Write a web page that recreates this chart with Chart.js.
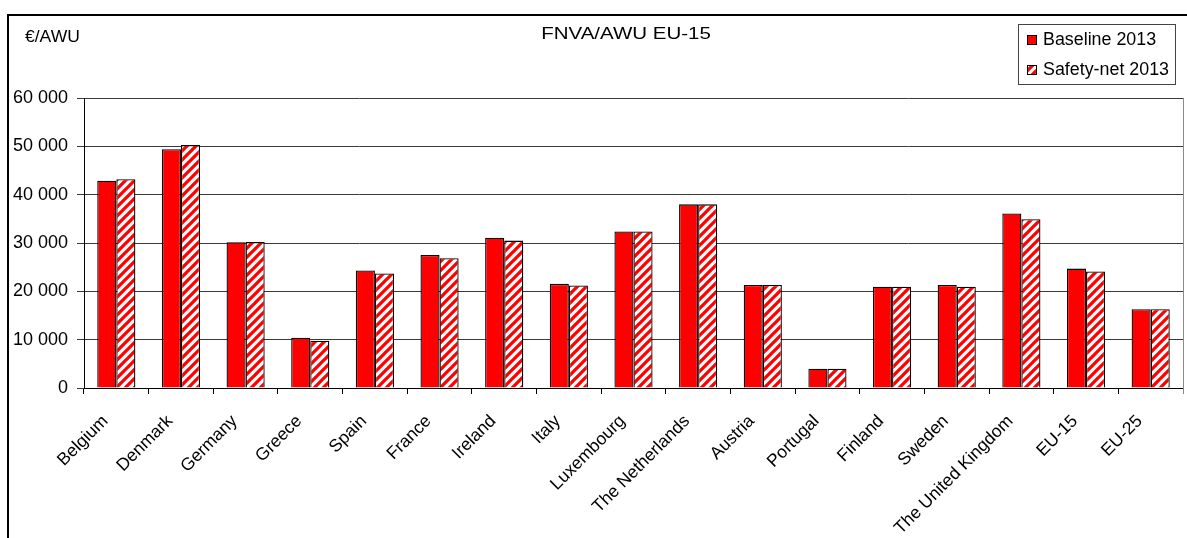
<!DOCTYPE html>
<html>
<head>
<meta charset="utf-8">
<script src="https://cdn.jsdelivr.net/npm/chart.js@4/dist/chart.umd.min.js"></script>
<style>
    html, body { margin: 0; padding: 0; background: #fff; }
    #wrap { position: relative; width: 1187px; height: 538px; }
</style>
</head>
<body>
<div id="wrap"><canvas id="chart"></canvas></div>
<script>
// Data
const paises = ['Belgium', 'Denmark', 'Germany', 'Greece', 'Spain', 'France', 'Ireland', 'Italy',
    'Luxembourg', 'The Netherlands', 'Austria', 'Portugal', 'Finland', 'Sweden',
    'The United Kingdom', 'EU-15', 'EU-25'];
const baseline2013 = [42900, 49400, 30150, 10400, 24300, 27500, 31100, 21550, 32400, 38000,
    21300, 4000, 20950, 21300, 36100, 24700, 16300];
const safetyNet2013 = [43200, 50300, 30200, 9800, 23700, 26850, 30500, 21200, 32400, 38000,
    21300, 4000, 20950, 20950, 34900, 24100, 16300];
const titulo = 'FNVA/AWU EU-15';
const unidade = '€/AWU';

const fonte = '"Liberation Sans", Arial, sans-serif';

// Hatch pattern for the safety-net bars
function criarHachura() {
    const s = 9;
    const c = document.createElement('canvas');
    c.width = s; c.height = s;
    const ctx = c.getContext('2d');
    ctx.fillStyle = '#fff';
    ctx.fillRect(0, 0, s, s);
    ctx.strokeStyle = '#ff0000';
    ctx.lineWidth = 3.3;
    ctx.beginPath();
    ctx.moveTo(-2, 2); ctx.lineTo(2, -2);
    ctx.moveTo(0, s); ctx.lineTo(s, 0);
    ctx.moveTo(s - 2, s + 2); ctx.lineTo(s + 2, s - 2);
    ctx.stroke();
    return ctx.createPattern(c, 'repeat');
}
const hachura = criarHachura();

function formatar(v) {
    return String(v).replace(/\B(?=(\d{3})+(?!\d))/g, ' ');
}

// text drawn slightly wider, like the original export
function textoLargo(ctx, txt, x, y, fator) {
    ctx.save();
    ctx.translate(x, y);
    ctx.scale(fator, 1);
    ctx.fillText(txt, 0, 0);
    ctx.restore();
}

// Frame, titles, plot border and legend box
const extras = {
    id: 'extras',
    afterDraw(chart) {
        const ctx = chart.ctx;
        const area = chart.chartArea;
        ctx.save();
        ctx.strokeStyle = '#000';
        ctx.lineWidth = 2;
        ctx.beginPath();
        ctx.moveTo(8, 538); ctx.lineTo(8, 15); ctx.lineTo(1187, 15);
        ctx.stroke();

        ctx.strokeStyle = '#8a8a8a';
        ctx.lineWidth = 1;
        ctx.beginPath();
        ctx.moveTo(area.right + 0.5, area.top); ctx.lineTo(area.right + 0.5, area.bottom + 6);
        ctx.stroke();

        ctx.fillStyle = '#000';
        ctx.textBaseline = 'middle';
        ctx.font = '16px ' + fonte;
        ctx.textAlign = 'center';
        textoLargo(ctx, titulo, 626, 35, 1.28);
        ctx.font = '17px ' + fonte;
        ctx.textAlign = 'left';
        textoLargo(ctx, unidade, 25, 37, 1.03);

        // legend
        ctx.strokeStyle = '#444';
        ctx.strokeRect(1018.5, 24.5, 157, 60);
        chart.data.datasets.forEach((ds, i) => {
            const y = 40 + i * 30;
            ctx.fillStyle = ds.backgroundColor;
            ctx.fillRect(1027, y - 5, 10, 10);
            ctx.strokeStyle = '#000';
            ctx.strokeRect(1027.5, y - 4.5, 9, 9);
            ctx.fillStyle = '#000';
            ctx.font = '17.5px ' + fonte;
            textoLargo(ctx, ds.label, 1043, y, 1.02);
        });
        ctx.restore();
    }
};

new Chart(document.getElementById('chart'), {
    type: 'bar',
    data: {
        labels: paises,
        datasets: [{
            label: 'Baseline 2013',
            data: baseline2013,
            backgroundColor: '#ff0000',
            borderColor: '#000',
            borderWidth: 1.3,
            categoryPercentage: 0.59,
            barPercentage: 1
        }, {
            label: 'Safety-net 2013',
            data: safetyNet2013,
            backgroundColor: hachura,
            borderColor: '#000',
            borderWidth: 1.3,
            categoryPercentage: 0.59,
            barPercentage: 1
        }]
    },
    options: {
        responsive: true,
        maintainAspectRatio: false,
        animation: false,
        layout: { padding: { top: 98, right: 4, left: 0, bottom: 0 } },
        plugins: {
            legend: { display: false },
            title: { display: false },
            tooltip: { enabled: false }
        },
        scales: {
            x: {
                offset: true,
                grid: { offset: true, drawOnChartArea: false, drawTicks: true, tickLength: 6, color: '#000' },
                border: { color: '#000', width: 1 },
                ticks: {
                    color: '#000',
                    font: { family: fonte, size: 17.5 },
                    maxRotation: 45,
                    minRotation: 45,
                    autoSkip: false,
                    padding: 17,
                    labelOffset: -11
                },
                afterFit(scale) { scale.height = 150; }
            },
            y: {
                min: 0,
                max: 60000,
                grid: { color: '#3a3a3a', tickLength: 7, lineWidth: 1 },
                border: { color: '#000', width: 1 },
                ticks: {
                    stepSize: 10000,
                    color: '#000',
                    font: { family: fonte, size: 18 },
                    padding: 9,
                    callback: v => formatar(v)
                },
                afterFit(scale) { scale.width = 84; }
            }
        }
    },
    plugins: [extras]
});
</script>
</body>
</html>
